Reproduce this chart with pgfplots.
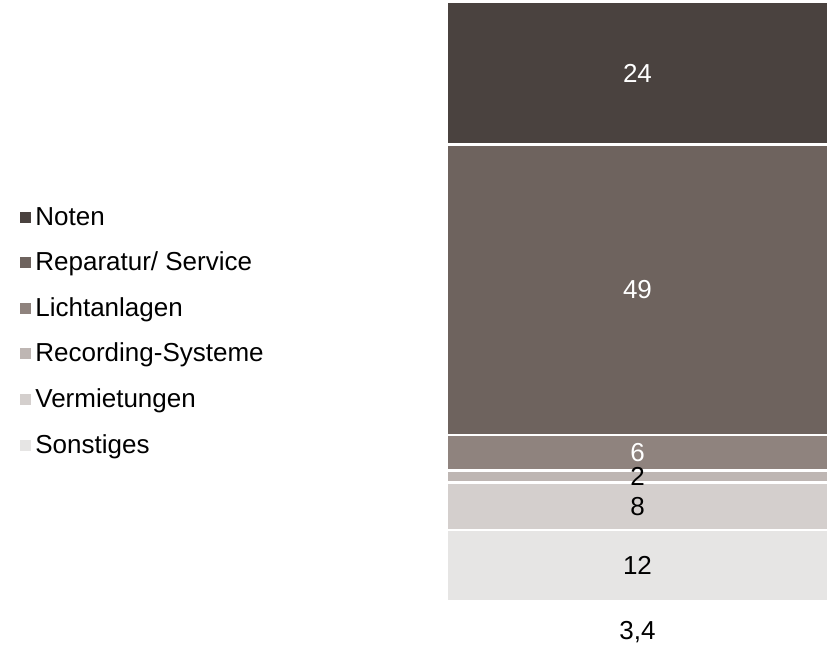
\documentclass[border=0pt]{standalone}
\usepackage{fontspec}
\setmainfont{Liberation Sans}
\usepackage{pgfplots}
\pgfplotsset{compat=1.18}
\definecolor{cNoten}{HTML}{4A423F}
\definecolor{cRep}{HTML}{6E635E}
\definecolor{cLicht}{HTML}{8F837E}
\definecolor{cRec}{HTML}{BEB6B3}
\definecolor{cVerm}{HTML}{D4CFCD}
\definecolor{cSonst}{HTML}{E6E5E4}
\pgfplotsset{
  sq legend/.style={legend image code/.code={\fill[##1,draw=none] (0pt,-2pt) rectangle (5.5pt,3.5pt);}},
}
\begin{document}
\begin{tikzpicture}
\begin{axis}[
  at={(0,0)}, anchor=south west,
  scale only axis, width=190.5pt, height=299.5pt,
  ybar stacked, bar width=190.5pt,
  xmin=-0.5, xmax=0.5, ymin=0, ymax=101,
  xtick={0}, xticklabels={3{,}4}, ytick=\empty,
  major tick length=0pt,
  axis line style={draw=none},
  font=\fontsize{13}{15}\selectfont,
  /pgf/number format/assume math mode=true,
  x tick label style={font=\fontsize{13}{15}\selectfont, yshift=-6.7pt},
  visualization depends on={rawy \as \segval},
  nodes near coords={\pgfmathprintnumber{\segval}},
  every node near coord/.append style={anchor=center, text=black, font=\fontsize{13}{15}\selectfont},
  reverse legend,
  legend cell align=left,
  legend style={at={(-1.1365,0.4482)}, anchor=west, draw=none, fill=none,
    font=\fontsize{13}{15}\selectfont, row sep=6.6pt,
    nodes={text height=9.4pt, text depth=2.8pt}},
]
\addplot[fill=cSonst, draw=white, line width=1.25pt, sq legend] coordinates {(0,12)};
\addplot[fill=cVerm, draw=white, line width=1.25pt, sq legend] coordinates {(0,8)};
\addplot[fill=cRec, draw=white, line width=1.25pt, sq legend] coordinates {(0,2)};
\addplot[fill=cLicht, draw=white, line width=1.25pt, sq legend, every node near coord/.append style={text=white}] coordinates {(0,6)};
\addplot[fill=cRep, draw=white, line width=1.25pt, sq legend, every node near coord/.append style={text=white}] coordinates {(0,49)};
\addplot[fill=cNoten, draw=white, line width=1.25pt, sq legend, every node near coord/.append style={text=white}] coordinates {(0,24)};
\legend{Sonstiges, Vermietungen, Recording-Systeme, Lichtanlagen, Reparatur/ Service, Noten}
\end{axis}
\pgfresetboundingbox
\path[use as bounding box] (-223.5pt,-23.5pt) rectangle (192.5pt,300.5pt);
\end{tikzpicture}
\end{document}
